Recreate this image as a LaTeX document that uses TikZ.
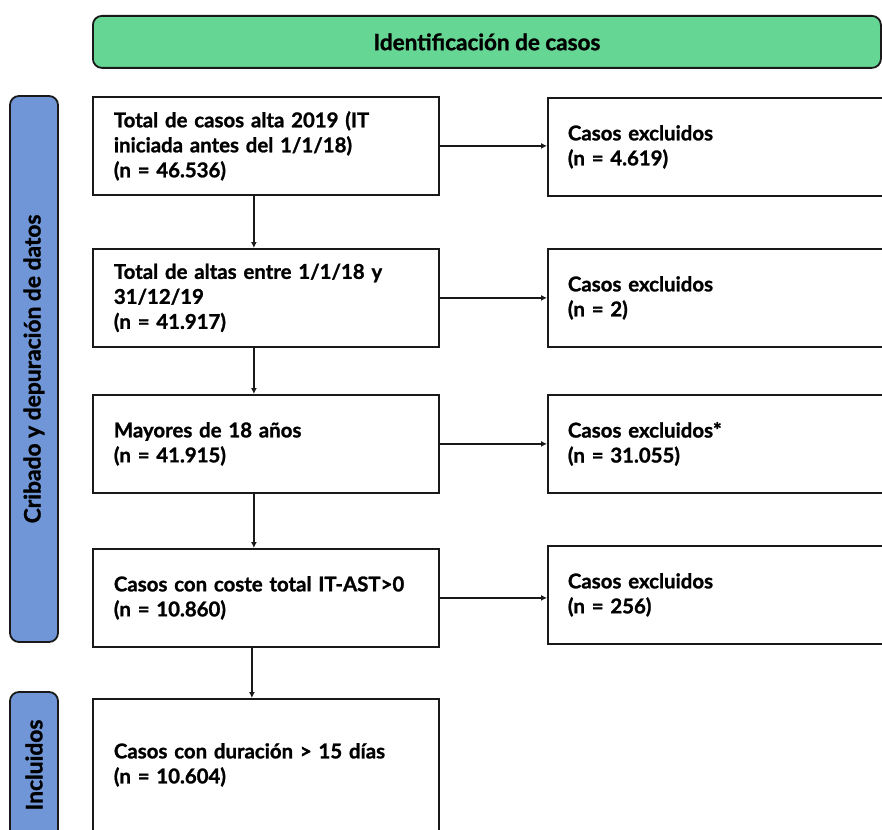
\documentclass[tikz,border=0pt]{standalone}
\usepackage{fontspec}
\setmainfont{Lato}[BoldFeatures={FakeBold=1.2}]
\usetikzlibrary{arrows.meta}
\definecolor{hdrgreen}{RGB}{102,214,148}
\definecolor{sideblue}{RGB}{112,150,216}
\definecolor{edge}{RGB}{25,25,25}
\tikzset{
  every node/.style={font=\bfseries\fontsize{20.4}{25}\selectfont},
  mainbox/.style={draw=edge, line width=1.8pt, anchor=north west, text width=304pt, inner xsep=21pt, inner ysep=4pt, minimum height=98pt, align=left},
  exbox/.style={draw=edge, line width=1.8pt, anchor=north west, text width=340pt, inner xsep=20pt, inner ysep=4pt, minimum height=98pt, align=left},
  sidebar/.style={draw=edge, fill=sideblue, line width=1.8pt, rounded corners=9pt},
  sidelabel/.style={rotate=90, font=\bfseries\fontsize{22.8}{27}\selectfont},
  conn/.style={draw=edge, line width=1.6pt, -{Latex[length=6pt,width=6pt]}}
}
\begin{document}
\begin{tikzpicture}[x=1pt,y=-1pt]
\useasboundingbox (0,0) rectangle (882,829);
\clip (0,0) rectangle (882,829);
% header
\node[draw=edge, fill=hdrgreen, line width=1.8pt, rounded corners=9pt, minimum width=788pt, minimum height=52pt, anchor=north west, font=\bfseries\fontsize{22.5}{27}\selectfont] (hdr) at (92,15) {Identificación de casos};
% side bars
\draw[sidebar] (10,96) rectangle (58,642);
\node[sidelabel] (sb1) at (34,369) {Cribado y depuración de datos};
\draw[sidebar] (10,692) rectangle (58,845);
\node[sidelabel] (sb2) at (34,765) {Incluidos};
% main boxes
\node[mainbox] (b1) at (92,96) {Total de casos alta 2019 (IT\\iniciada antes del 1/1/18)\\(n = 46.536)};
\node[mainbox] (b2) at (92,248) {Total de altas entre 1/1/18 y\\31/12/19\\(n = 41.917)};
\node[mainbox] (b3) at (92,394) {Mayores de 18 años\\(n = 41.915)};
\node[mainbox] (b4) at (92,548) {Casos con coste total IT-AST>0\\(n = 10.860)};
\node[mainbox, minimum height=132pt] (b5) at (92,698) {Casos con duración > 15 días\\(n = 10.604)};
% excluded boxes
\node[exbox] (e1) at (547,97) {Casos excluidos\\(n = 4.619)};
\node[exbox] (e2) at (547,248) {Casos excluidos\\(n = 2)};
\node[exbox] (e3) at (547,394) {Casos excluidos*\\(n = 31.055)};
\node[exbox] (e4) at (547,545) {Casos excluidos\\(n = 256)};
% vertical connectors
\draw[conn] ([xshift=-12pt]b1.south) -- ([xshift=-12pt]b1.south |- b2.north);
\draw[conn] ([xshift=-12pt]b2.south) -- ([xshift=-12pt]b2.south |- b3.north);
\draw[conn] ([xshift=-12pt]b3.south) -- ([xshift=-12pt]b3.south |- b4.north);
\draw[conn] ([xshift=-14pt]b4.south) -- ([xshift=-14pt]b4.south |- b5.north);
% horizontal connectors
\draw[conn] (b1.east) -- (b1.east -| e1.west);
\draw[conn] (b2.east) -- (b2.east -| e2.west);
\draw[conn] (b3.east) -- (b3.east -| e3.west);
\draw[conn] (b4.east) -- (b4.east -| e4.west);
\end{tikzpicture}
\end{document}
